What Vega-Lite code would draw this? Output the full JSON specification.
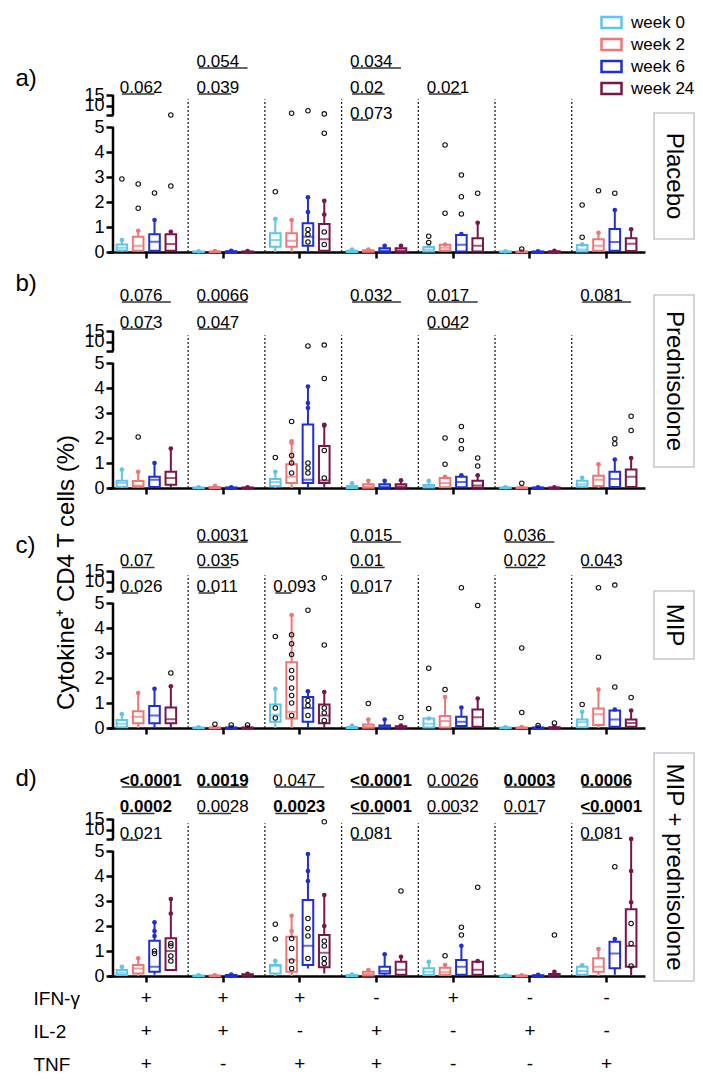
{
"$schema": "https://vega.github.io/schema/vega-lite/v6.json",
"padding": {"left": 15, "top": 0, "right": 0, "bottom": 0},
"title": {"text": "Cytokine⁺ CD4 T cells (%)", "orient": "left", "anchor": "middle", "frame": "bounds", "offset": -64, "dx": -30, "fontSize": 24, "fontWeight": "normal", "font": "Liberation Sans", "color": "black"},
"config": {
 "view": {"stroke": null},
 "font": "Liberation Sans",
 "axis": {"domainColor": "black", "domainWidth": 2.5, "tickColor": "black", "tickWidth": 2.5, "tickSize": 7, "labelColor": "black", "labelFont": "Liberation Sans", "labelFontSize": 18, "titleFont": "Liberation Sans", "titleColor": "black", "grid": false, "labelPadding": 2, "labelOverlap": false},
 "text": {"font": "Liberation Sans", "color": "black"}
},
"datasets": {
 "box": [
  {"p":"a","g":"+++","w":"week 0","lo":0,"q1":0.06,"md":0.17,"q3":0.3,"hi":0.48},
  {"p":"a","g":"+++","w":"week 2","lo":0,"q1":0.05,"md":0.25,"q3":0.61,"hi":0.85},
  {"p":"a","g":"+++","w":"week 6","lo":0,"q1":0.05,"md":0.41,"q3":0.71,"hi":1.28},
  {"p":"a","g":"+++","w":"week 24","lo":0,"q1":0.05,"md":0.32,"q3":0.71,"hi":0.81},
  {"p":"a","g":"++-","w":"week 0","lo":0,"q1":0,"md":0.01,"q3":0.02,"hi":0.03},
  {"p":"a","g":"++-","w":"week 2","lo":0,"q1":0,"md":0.01,"q3":0.02,"hi":0.04},
  {"p":"a","g":"++-","w":"week 6","lo":0,"q1":0,"md":0.02,"q3":0.03,"hi":0.05},
  {"p":"a","g":"++-","w":"week 24","lo":0,"q1":0,"md":0.01,"q3":0.02,"hi":0.04},
  {"p":"a","g":"+-+","w":"week 0","lo":0,"q1":0.21,"md":0.48,"q3":0.75,"hi":1.32},
  {"p":"a","g":"+-+","w":"week 2","lo":0,"q1":0.21,"md":0.45,"q3":0.75,"hi":1.28},
  {"p":"a","g":"+-+","w":"week 6","lo":0,"q1":0.25,"md":0.61,"q3":1.15,"hi":2.19},
  {"p":"a","g":"+-+","w":"week 24","lo":0,"q1":0.05,"md":0.51,"q3":1.12,"hi":2.05},
  {"p":"a","g":"-++","w":"week 0","lo":0,"q1":0,"md":0.02,"q3":0.05,"hi":0.1},
  {"p":"a","g":"-++","w":"week 2","lo":0,"q1":0.01,"md":0.03,"q3":0.07,"hi":0.1},
  {"p":"a","g":"-++","w":"week 6","lo":0,"q1":0.01,"md":0.05,"q3":0.15,"hi":0.25},
  {"p":"a","g":"-++","w":"week 24","lo":0,"q1":0.01,"md":0.06,"q3":0.15,"hi":0.25},
  {"p":"a","g":"+--","w":"week 0","lo":0,"q1":0.02,"md":0.1,"q3":0.2,"hi":0.25},
  {"p":"a","g":"+--","w":"week 2","lo":0,"q1":0.05,"md":0.17,"q3":0.29,"hi":0.3},
  {"p":"a","g":"+--","w":"week 6","lo":0,"q1":0.02,"md":0.29,"q3":0.68,"hi":0.72},
  {"p":"a","g":"+--","w":"week 24","lo":0,"q1":0.02,"md":0.25,"q3":0.55,"hi":1.17},
  {"p":"a","g":"-+-","w":"week 0","lo":0,"q1":0,"md":0.01,"q3":0.02,"hi":0.03},
  {"p":"a","g":"-+-","w":"week 2","lo":0,"q1":0,"md":0.01,"q3":0.02,"hi":0.04},
  {"p":"a","g":"-+-","w":"week 6","lo":0,"q1":0,"md":0.01,"q3":0.02,"hi":0.03},
  {"p":"a","g":"-+-","w":"week 24","lo":0,"q1":0,"md":0.01,"q3":0.03,"hi":0.05},
  {"p":"a","g":"--+","w":"week 0","lo":0,"q1":0.02,"md":0.1,"q3":0.28,"hi":0.3},
  {"p":"a","g":"--+","w":"week 2","lo":0,"q1":0.05,"md":0.25,"q3":0.51,"hi":0.77},
  {"p":"a","g":"--+","w":"week 6","lo":0,"q1":0.05,"md":0.4,"q3":0.92,"hi":1.68},
  {"p":"a","g":"--+","w":"week 24","lo":0,"q1":0.04,"md":0.33,"q3":0.55,"hi":0.91},
  {"p":"b","g":"+++","w":"week 0","lo":0,"q1":0.05,"md":0.2,"q3":0.29,"hi":0.74},
  {"p":"b","g":"+++","w":"week 2","lo":0,"q1":0.05,"md":0.1,"q3":0.28,"hi":0.65},
  {"p":"b","g":"+++","w":"week 6","lo":0,"q1":0.04,"md":0.33,"q3":0.45,"hi":1.0},
  {"p":"b","g":"+++","w":"week 24","lo":0,"q1":0.13,"md":0.4,"q3":0.65,"hi":1.58},
  {"p":"b","g":"++-","w":"week 0","lo":0,"q1":0,"md":0.01,"q3":0.02,"hi":0.03},
  {"p":"b","g":"++-","w":"week 2","lo":0,"q1":0,"md":0.02,"q3":0.04,"hi":0.08},
  {"p":"b","g":"++-","w":"week 6","lo":0,"q1":0,"md":0.01,"q3":0.02,"hi":0.03},
  {"p":"b","g":"++-","w":"week 24","lo":0,"q1":0,"md":0.01,"q3":0.02,"hi":0.03},
  {"p":"b","g":"+-+","w":"week 0","lo":0,"q1":0.07,"md":0.24,"q3":0.36,"hi":0.65},
  {"p":"b","g":"+-+","w":"week 2","lo":0,"q1":0.2,"md":0.45,"q3":0.95,"hi":1.87},
  {"p":"b","g":"+-+","w":"week 6","lo":0,"q1":0.2,"md":0.33,"q3":2.54,"hi":4.06},
  {"p":"b","g":"+-+","w":"week 24","lo":0,"q1":0.2,"md":0.3,"q3":1.68,"hi":2.53},
  {"p":"b","g":"-++","w":"week 0","lo":0,"q1":0,"md":0.03,"q3":0.08,"hi":0.19},
  {"p":"b","g":"-++","w":"week 2","lo":0,"q1":0.01,"md":0.05,"q3":0.15,"hi":0.29},
  {"p":"b","g":"-++","w":"week 6","lo":0,"q1":0.01,"md":0.05,"q3":0.15,"hi":0.29},
  {"p":"b","g":"-++","w":"week 24","lo":0,"q1":0.01,"md":0.06,"q3":0.15,"hi":0.31},
  {"p":"b","g":"+--","w":"week 0","lo":0,"q1":0.02,"md":0.06,"q3":0.12,"hi":0.29},
  {"p":"b","g":"+--","w":"week 2","lo":0,"q1":0.03,"md":0.2,"q3":0.4,"hi":0.45},
  {"p":"b","g":"+--","w":"week 6","lo":0,"q1":0.03,"md":0.24,"q3":0.45,"hi":0.51},
  {"p":"b","g":"+--","w":"week 24","lo":0,"q1":0.01,"md":0.1,"q3":0.29,"hi":0.51},
  {"p":"b","g":"-+-","w":"week 0","lo":0,"q1":0,"md":0.01,"q3":0.02,"hi":0.03},
  {"p":"b","g":"-+-","w":"week 2","lo":0,"q1":0,"md":0.01,"q3":0.02,"hi":0.04},
  {"p":"b","g":"-+-","w":"week 6","lo":0,"q1":0,"md":0.01,"q3":0.02,"hi":0.03},
  {"p":"b","g":"-+-","w":"week 24","lo":0,"q1":0,"md":0.01,"q3":0.02,"hi":0.03},
  {"p":"b","g":"--+","w":"week 0","lo":0,"q1":0.05,"md":0.15,"q3":0.29,"hi":0.41},
  {"p":"b","g":"--+","w":"week 2","lo":0,"q1":0.08,"md":0.33,"q3":0.49,"hi":0.95},
  {"p":"b","g":"--+","w":"week 6","lo":0,"q1":0.04,"md":0.36,"q3":0.65,"hi":1.14},
  {"p":"b","g":"--+","w":"week 24","lo":0,"q1":0.04,"md":0.45,"q3":0.74,"hi":1.2},
  {"p":"c","g":"+++","w":"week 0","lo":0,"q1":0.03,"md":0.17,"q3":0.32,"hi":0.56},
  {"p":"c","g":"+++","w":"week 2","lo":0,"q1":0.19,"md":0.45,"q3":0.67,"hi":1.4},
  {"p":"c","g":"+++","w":"week 6","lo":0,"q1":0.19,"md":0.5,"q3":0.88,"hi":1.57},
  {"p":"c","g":"+++","w":"week 24","lo":0,"q1":0.19,"md":0.35,"q3":0.82,"hi":1.67},
  {"p":"c","g":"++-","w":"week 0","lo":0,"q1":0,"md":0.01,"q3":0.02,"hi":0.03},
  {"p":"c","g":"++-","w":"week 2","lo":0,"q1":0,"md":0.01,"q3":0.02,"hi":0.03},
  {"p":"c","g":"++-","w":"week 6","lo":0,"q1":0,"md":0.01,"q3":0.02,"hi":0.03},
  {"p":"c","g":"++-","w":"week 24","lo":0,"q1":0,"md":0.01,"q3":0.02,"hi":0.03},
  {"p":"c","g":"+-+","w":"week 0","lo":0,"q1":0.25,"md":0.53,"q3":0.94,"hi":1.57},
  {"p":"c","g":"+-+","w":"week 2","lo":0,"q1":0.38,"md":0.65,"q3":2.63,"hi":4.52},
  {"p":"c","g":"+-+","w":"week 6","lo":0,"q1":0.25,"md":0.8,"q3":1.24,"hi":1.47},
  {"p":"c","g":"+-+","w":"week 24","lo":0,"q1":0.19,"md":0.5,"q3":0.94,"hi":1.44},
  {"p":"c","g":"-++","w":"week 0","lo":0,"q1":0,"md":0.02,"q3":0.04,"hi":0.1},
  {"p":"c","g":"-++","w":"week 2","lo":0,"q1":0.01,"md":0.05,"q3":0.14,"hi":0.34},
  {"p":"c","g":"-++","w":"week 6","lo":0,"q1":0.01,"md":0.04,"q3":0.1,"hi":0.34},
  {"p":"c","g":"-++","w":"week 24","lo":0,"q1":0.01,"md":0.03,"q3":0.07,"hi":0.1},
  {"p":"c","g":"+--","w":"week 0","lo":0,"q1":0.02,"md":0.17,"q3":0.38,"hi":0.38},
  {"p":"c","g":"+--","w":"week 2","lo":0,"q1":0.02,"md":0.28,"q3":0.48,"hi":1.24},
  {"p":"c","g":"+--","w":"week 6","lo":0,"q1":0.08,"md":0.25,"q3":0.45,"hi":0.82},
  {"p":"c","g":"+--","w":"week 24","lo":0,"q1":0.05,"md":0.43,"q3":0.74,"hi":1.18},
  {"p":"c","g":"-+-","w":"week 0","lo":0,"q1":0,"md":0.01,"q3":0.02,"hi":0.03},
  {"p":"c","g":"-+-","w":"week 2","lo":0,"q1":0,"md":0.01,"q3":0.02,"hi":0.04},
  {"p":"c","g":"-+-","w":"week 6","lo":0,"q1":0,"md":0.01,"q3":0.02,"hi":0.04},
  {"p":"c","g":"-+-","w":"week 24","lo":0,"q1":0,"md":0.01,"q3":0.03,"hi":0.05},
  {"p":"c","g":"--+","w":"week 0","lo":0,"q1":0.03,"md":0.24,"q3":0.34,"hi":0.65},
  {"p":"c","g":"--+","w":"week 2","lo":0,"q1":0.12,"md":0.55,"q3":0.78,"hi":1.54},
  {"p":"c","g":"--+","w":"week 6","lo":0,"q1":0.05,"md":0.34,"q3":0.7,"hi":0.74},
  {"p":"c","g":"--+","w":"week 24","lo":0,"q1":0.05,"md":0.2,"q3":0.34,"hi":0.7},
  {"p":"d","g":"+++","w":"week 0","lo":0,"q1":0.04,"md":0.13,"q3":0.24,"hi":0.37},
  {"p":"d","g":"+++","w":"week 2","lo":0,"q1":0.1,"md":0.3,"q3":0.44,"hi":0.71},
  {"p":"d","g":"+++","w":"week 6","lo":0.05,"q1":0.17,"md":0.37,"q3":1.41,"hi":2.15},
  {"p":"d","g":"+++","w":"week 24","lo":0.2,"q1":0.24,"md":1.0,"q3":1.51,"hi":3.08},
  {"p":"d","g":"++-","w":"week 0","lo":0,"q1":0,"md":0.01,"q3":0.02,"hi":0.03},
  {"p":"d","g":"++-","w":"week 2","lo":0,"q1":0,"md":0.01,"q3":0.02,"hi":0.03},
  {"p":"d","g":"++-","w":"week 6","lo":0,"q1":0,"md":0.02,"q3":0.04,"hi":0.06},
  {"p":"d","g":"++-","w":"week 24","lo":0,"q1":0.01,"md":0.04,"q3":0.07,"hi":0.09},
  {"p":"d","g":"+-+","w":"week 0","lo":0,"q1":0.1,"md":0.4,"q3":0.44,"hi":0.61},
  {"p":"d","g":"+-+","w":"week 2","lo":0,"q1":0.17,"md":0.65,"q3":1.57,"hi":2.41},
  {"p":"d","g":"+-+","w":"week 6","lo":0.3,"q1":0.44,"md":1.21,"q3":3.04,"hi":4.88},
  {"p":"d","g":"+-+","w":"week 24","lo":0.1,"q1":0.35,"md":0.93,"q3":1.64,"hi":3.24},
  {"p":"d","g":"-++","w":"week 0","lo":0,"q1":0,"md":0.02,"q3":0.04,"hi":0.06},
  {"p":"d","g":"-++","w":"week 2","lo":0,"q1":0.02,"md":0.08,"q3":0.17,"hi":0.24},
  {"p":"d","g":"-++","w":"week 6","lo":0,"q1":0.1,"md":0.2,"q3":0.37,"hi":0.87},
  {"p":"d","g":"-++","w":"week 24","lo":0,"q1":0.05,"md":0.25,"q3":0.57,"hi":0.77},
  {"p":"d","g":"+--","w":"week 0","lo":0,"q1":0.04,"md":0.17,"q3":0.31,"hi":0.57},
  {"p":"d","g":"+--","w":"week 2","lo":0,"q1":0.04,"md":0.15,"q3":0.33,"hi":0.44},
  {"p":"d","g":"+--","w":"week 6","lo":0,"q1":0.05,"md":0.37,"q3":0.64,"hi":1.21},
  {"p":"d","g":"+--","w":"week 24","lo":0,"q1":0.05,"md":0.25,"q3":0.57,"hi":0.6},
  {"p":"d","g":"-+-","w":"week 0","lo":0,"q1":0,"md":0.01,"q3":0.02,"hi":0.03},
  {"p":"d","g":"-+-","w":"week 2","lo":0,"q1":0,"md":0.01,"q3":0.02,"hi":0.03},
  {"p":"d","g":"-+-","w":"week 6","lo":0,"q1":0,"md":0.01,"q3":0.03,"hi":0.05},
  {"p":"d","g":"-+-","w":"week 24","lo":0,"q1":0.01,"md":0.04,"q3":0.08,"hi":0.17},
  {"p":"d","g":"--+","w":"week 0","lo":0,"q1":0.05,"md":0.2,"q3":0.37,"hi":0.43},
  {"p":"d","g":"--+","w":"week 2","lo":0,"q1":0.17,"md":0.37,"q3":0.71,"hi":1.08},
  {"p":"d","g":"--+","w":"week 6","lo":0.05,"q1":0.31,"md":0.9,"q3":1.37,"hi":1.48},
  {"p":"d","g":"--+","w":"week 24","lo":0,"q1":0.37,"md":1.2,"q3":2.67,"hi":5.5}
 ],
 "pts": [
  {"p":"a","g":"+++","w":"week 0","v":2.92,"k":"o"},
  {"p":"a","g":"+++","w":"week 2","v":1.75,"k":"o"},
  {"p":"a","g":"+++","w":"week 2","v":2.72,"k":"o"},
  {"p":"a","g":"+++","w":"week 6","v":2.36,"k":"o"},
  {"p":"a","g":"+++","w":"week 24","v":2.64,"k":"o"},
  {"p":"a","g":"+++","w":"week 24","v":5.5,"k":"o"},
  {"p":"a","g":"+-+","w":"week 0","v":2.41,"k":"o"},
  {"p":"a","g":"+-+","w":"week 2","v":6.3,"k":"o"},
  {"p":"a","g":"+-+","w":"week 6","v":7.5,"k":"o"},
  {"p":"a","g":"+-+","w":"week 24","v":4.75,"k":"o"},
  {"p":"a","g":"+-+","w":"week 24","v":6.0,"k":"o"},
  {"p":"a","g":"+-+","w":"week 6","v":0.4,"k":"o"},
  {"p":"a","g":"+-+","w":"week 6","v":0.7,"k":"o"},
  {"p":"a","g":"+-+","w":"week 6","v":0.9,"k":"o"},
  {"p":"a","g":"+-+","w":"week 6","v":1.6,"k":"f"},
  {"p":"a","g":"+-+","w":"week 24","v":0.3,"k":"o"},
  {"p":"a","g":"+-+","w":"week 24","v":0.8,"k":"o"},
  {"p":"a","g":"+-+","w":"week 24","v":1.5,"k":"f"},
  {"p":"a","g":"+--","w":"week 0","v":0.38,"k":"o"},
  {"p":"a","g":"+--","w":"week 0","v":0.63,"k":"o"},
  {"p":"a","g":"+--","w":"week 2","v":1.55,"k":"o"},
  {"p":"a","g":"+--","w":"week 2","v":4.28,"k":"o"},
  {"p":"a","g":"+--","w":"week 6","v":1.52,"k":"o"},
  {"p":"a","g":"+--","w":"week 6","v":2.21,"k":"o"},
  {"p":"a","g":"+--","w":"week 6","v":3.08,"k":"o"},
  {"p":"a","g":"+--","w":"week 24","v":2.35,"k":"o"},
  {"p":"a","g":"-+-","w":"week 2","v":0.12,"k":"o"},
  {"p":"a","g":"--+","w":"week 0","v":0.59,"k":"o"},
  {"p":"a","g":"--+","w":"week 0","v":1.88,"k":"o"},
  {"p":"a","g":"--+","w":"week 2","v":2.45,"k":"o"},
  {"p":"a","g":"--+","w":"week 6","v":2.35,"k":"o"},
  {"p":"b","g":"+++","w":"week 2","v":2.04,"k":"o"},
  {"p":"b","g":"+-+","w":"week 0","v":1.22,"k":"o"},
  {"p":"b","g":"+-+","w":"week 2","v":2.66,"k":"o"},
  {"p":"b","g":"+-+","w":"week 2","v":0.6,"k":"o"},
  {"p":"b","g":"+-+","w":"week 2","v":1.0,"k":"o"},
  {"p":"b","g":"+-+","w":"week 2","v":1.3,"k":"o"},
  {"p":"b","g":"+-+","w":"week 2","v":1.8,"k":"f"},
  {"p":"b","g":"+-+","w":"week 6","v":7.9,"k":"o"},
  {"p":"b","g":"+-+","w":"week 6","v":0.6,"k":"o"},
  {"p":"b","g":"+-+","w":"week 6","v":0.8,"k":"o"},
  {"p":"b","g":"+-+","w":"week 6","v":1.0,"k":"o"},
  {"p":"b","g":"+-+","w":"week 6","v":3.2,"k":"f"},
  {"p":"b","g":"+-+","w":"week 6","v":3.4,"k":"f"},
  {"p":"b","g":"+-+","w":"week 24","v":4.38,"k":"o"},
  {"p":"b","g":"+-+","w":"week 24","v":8.3,"k":"o"},
  {"p":"b","g":"+-+","w":"week 24","v":0.4,"k":"o"},
  {"p":"b","g":"+-+","w":"week 24","v":1.5,"k":"o"},
  {"p":"b","g":"+-+","w":"week 24","v":2.5,"k":"f"},
  {"p":"b","g":"+--","w":"week 2","v":0.95,"k":"o"},
  {"p":"b","g":"+--","w":"week 2","v":2.0,"k":"o"},
  {"p":"b","g":"+--","w":"week 6","v":1.57,"k":"o"},
  {"p":"b","g":"+--","w":"week 6","v":1.9,"k":"o"},
  {"p":"b","g":"+--","w":"week 6","v":2.46,"k":"o"},
  {"p":"b","g":"+--","w":"week 24","v":0.88,"k":"o"},
  {"p":"b","g":"+--","w":"week 24","v":1.2,"k":"o"},
  {"p":"b","g":"-+-","w":"week 2","v":0.19,"k":"o"},
  {"p":"b","g":"--+","w":"week 6","v":1.77,"k":"o"},
  {"p":"b","g":"--+","w":"week 6","v":1.97,"k":"o"},
  {"p":"b","g":"--+","w":"week 24","v":2.3,"k":"o"},
  {"p":"b","g":"--+","w":"week 24","v":2.87,"k":"o"},
  {"p":"c","g":"+++","w":"week 24","v":2.2,"k":"o"},
  {"p":"c","g":"++-","w":"week 2","v":0.15,"k":"o"},
  {"p":"c","g":"++-","w":"week 6","v":0.12,"k":"o"},
  {"p":"c","g":"++-","w":"week 24","v":0.12,"k":"o"},
  {"p":"c","g":"+-+","w":"week 0","v":3.66,"k":"o"},
  {"p":"c","g":"+-+","w":"week 0","v":0.4,"k":"o"},
  {"p":"c","g":"+-+","w":"week 0","v":0.8,"k":"o"},
  {"p":"c","g":"+-+","w":"week 2","v":0.5,"k":"o"},
  {"p":"c","g":"+-+","w":"week 2","v":1.0,"k":"o"},
  {"p":"c","g":"+-+","w":"week 2","v":1.3,"k":"o"},
  {"p":"c","g":"+-+","w":"week 2","v":1.6,"k":"o"},
  {"p":"c","g":"+-+","w":"week 2","v":2.0,"k":"o"},
  {"p":"c","g":"+-+","w":"week 2","v":2.3,"k":"o"},
  {"p":"c","g":"+-+","w":"week 2","v":2.94,"k":"o"},
  {"p":"c","g":"+-+","w":"week 2","v":3.37,"k":"o"},
  {"p":"c","g":"+-+","w":"week 2","v":3.73,"k":"o"},
  {"p":"c","g":"+-+","w":"week 6","v":4.71,"k":"o"},
  {"p":"c","g":"+-+","w":"week 6","v":0.5,"k":"o"},
  {"p":"c","g":"+-+","w":"week 6","v":0.9,"k":"o"},
  {"p":"c","g":"+-+","w":"week 6","v":1.1,"k":"o"},
  {"p":"c","g":"+-+","w":"week 24","v":3.32,"k":"o"},
  {"p":"c","g":"+-+","w":"week 24","v":11.8,"k":"o"},
  {"p":"c","g":"+-+","w":"week 24","v":0.3,"k":"o"},
  {"p":"c","g":"+-+","w":"week 24","v":0.6,"k":"o"},
  {"p":"c","g":"+-+","w":"week 24","v":0.8,"k":"o"},
  {"p":"c","g":"-++","w":"week 2","v":0.98,"k":"o"},
  {"p":"c","g":"-++","w":"week 24","v":0.42,"k":"o"},
  {"p":"c","g":"+--","w":"week 0","v":0.78,"k":"o"},
  {"p":"c","g":"+--","w":"week 0","v":2.39,"k":"o"},
  {"p":"c","g":"+--","w":"week 2","v":1.54,"k":"o"},
  {"p":"c","g":"+--","w":"week 6","v":7.0,"k":"o"},
  {"p":"c","g":"+--","w":"week 24","v":4.9,"k":"o"},
  {"p":"c","g":"-+-","w":"week 2","v":0.62,"k":"o"},
  {"p":"c","g":"-+-","w":"week 2","v":3.2,"k":"o"},
  {"p":"c","g":"-+-","w":"week 6","v":0.1,"k":"o"},
  {"p":"c","g":"-+-","w":"week 24","v":0.2,"k":"o"},
  {"p":"c","g":"--+","w":"week 0","v":0.94,"k":"o"},
  {"p":"c","g":"--+","w":"week 2","v":2.83,"k":"o"},
  {"p":"c","g":"--+","w":"week 2","v":7.0,"k":"o"},
  {"p":"c","g":"--+","w":"week 6","v":1.64,"k":"o"},
  {"p":"c","g":"--+","w":"week 6","v":8.3,"k":"o"},
  {"p":"c","g":"--+","w":"week 24","v":1.22,"k":"o"},
  {"p":"d","g":"+++","w":"week 6","v":0.9,"k":"o"},
  {"p":"d","g":"+++","w":"week 6","v":1.0,"k":"o"},
  {"p":"d","g":"+++","w":"week 6","v":1.6,"k":"f"},
  {"p":"d","g":"+++","w":"week 6","v":1.8,"k":"f"},
  {"p":"d","g":"+++","w":"week 24","v":0.6,"k":"o"},
  {"p":"d","g":"+++","w":"week 24","v":0.8,"k":"o"},
  {"p":"d","g":"+++","w":"week 24","v":1.2,"k":"o"},
  {"p":"d","g":"+++","w":"week 24","v":1.3,"k":"o"},
  {"p":"d","g":"+++","w":"week 24","v":2.5,"k":"f"},
  {"p":"d","g":"+-+","w":"week 0","v":1.48,"k":"o"},
  {"p":"d","g":"+-+","w":"week 0","v":2.07,"k":"o"},
  {"p":"d","g":"+-+","w":"week 2","v":0.3,"k":"o"},
  {"p":"d","g":"+-+","w":"week 2","v":0.6,"k":"o"},
  {"p":"d","g":"+-+","w":"week 2","v":1.1,"k":"o"},
  {"p":"d","g":"+-+","w":"week 2","v":1.5,"k":"o"},
  {"p":"d","g":"+-+","w":"week 2","v":1.8,"k":"f"},
  {"p":"d","g":"+-+","w":"week 6","v":0.7,"k":"o"},
  {"p":"d","g":"+-+","w":"week 6","v":1.6,"k":"o"},
  {"p":"d","g":"+-+","w":"week 6","v":1.9,"k":"o"},
  {"p":"d","g":"+-+","w":"week 6","v":2.3,"k":"o"},
  {"p":"d","g":"+-+","w":"week 6","v":3.8,"k":"f"},
  {"p":"d","g":"+-+","w":"week 6","v":4.2,"k":"f"},
  {"p":"d","g":"+-+","w":"week 24","v":0.5,"k":"o"},
  {"p":"d","g":"+-+","w":"week 24","v":0.7,"k":"o"},
  {"p":"d","g":"+-+","w":"week 24","v":1.2,"k":"o"},
  {"p":"d","g":"+-+","w":"week 24","v":1.4,"k":"o"},
  {"p":"d","g":"+-+","w":"week 24","v":2.0,"k":"f"},
  {"p":"d","g":"+-+","w":"week 24","v":13.7,"k":"o"},
  {"p":"d","g":"-++","w":"week 24","v":3.4,"k":"o"},
  {"p":"d","g":"+--","w":"week 2","v":0.81,"k":"o"},
  {"p":"d","g":"+--","w":"week 6","v":1.64,"k":"o"},
  {"p":"d","g":"+--","w":"week 6","v":1.95,"k":"o"},
  {"p":"d","g":"+--","w":"week 24","v":3.55,"k":"o"},
  {"p":"d","g":"-+-","w":"week 24","v":1.64,"k":"o"},
  {"p":"d","g":"--+","w":"week 6","v":4.37,"k":"o"},
  {"p":"d","g":"--+","w":"week 24","v":0.4,"k":"o"},
  {"p":"d","g":"--+","w":"week 24","v":1.3,"k":"o"},
  {"p":"d","g":"--+","w":"week 24","v":2.1,"k":"o"},
  {"p":"d","g":"--+","w":"week 24","v":2.95,"k":"f"},
  {"p":"d","g":"--+","w":"week 24","v":4.2,"k":"f"}
 ],
 "pv": [
  {"p":"a","g":"+++","fr":"week 0","to":"week 6","t":"0.062"},
  {"p":"a","g":"++-","fr":"week 0","to":"week 24","t":"0.054"},
  {"p":"a","g":"++-","fr":"week 0","to":"week 6","t":"0.039"},
  {"p":"a","g":"-++","fr":"week 0","to":"week 24","t":"0.034"},
  {"p":"a","g":"-++","fr":"week 0","to":"week 6","t":"0.02"},
  {"p":"a","g":"-++","fr":"week 0","to":"week 2","t":"0.073"},
  {"p":"a","g":"+--","fr":"week 0","to":"week 6","t":"0.021"},
  {"p":"b","g":"+++","fr":"week 0","to":"week 24","t":"0.076"},
  {"p":"b","g":"+++","fr":"week 0","to":"week 6","t":"0.073"},
  {"p":"b","g":"++-","fr":"week 0","to":"week 24","t":"0.0066"},
  {"p":"b","g":"++-","fr":"week 0","to":"week 6","t":"0.047"},
  {"p":"b","g":"-++","fr":"week 0","to":"week 24","t":"0.032"},
  {"p":"b","g":"+--","fr":"week 0","to":"week 24","t":"0.017"},
  {"p":"b","g":"+--","fr":"week 0","to":"week 6","t":"0.042"},
  {"p":"b","g":"--+","fr":"week 0","to":"week 24","t":"0.081"},
  {"p":"c","g":"+++","fr":"week 0","to":"week 6","t":"0.07"},
  {"p":"c","g":"+++","fr":"week 0","to":"week 2","t":"0.026"},
  {"p":"c","g":"++-","fr":"week 0","to":"week 24","t":"0.0031"},
  {"p":"c","g":"++-","fr":"week 0","to":"week 6","t":"0.035"},
  {"p":"c","g":"++-","fr":"week 0","to":"week 2","t":"0.011"},
  {"p":"c","g":"+-+","fr":"week 0","to":"week 2","t":"0.093"},
  {"p":"c","g":"-++","fr":"week 0","to":"week 24","t":"0.015"},
  {"p":"c","g":"-++","fr":"week 0","to":"week 6","t":"0.01"},
  {"p":"c","g":"-++","fr":"week 0","to":"week 2","t":"0.017"},
  {"p":"c","g":"-+-","fr":"week 0","to":"week 24","t":"0.036"},
  {"p":"c","g":"-+-","fr":"week 0","to":"week 6","t":"0.022"},
  {"p":"c","g":"--+","fr":"week 0","to":"week 6","t":"0.043"},
  {"p":"d","g":"+++","fr":"week 0","to":"week 24","t":"<0.0001","b":1},
  {"p":"d","g":"+++","fr":"week 0","to":"week 6","t":"0.0002","b":1},
  {"p":"d","g":"+++","fr":"week 0","to":"week 2","t":"0.021"},
  {"p":"d","g":"++-","fr":"week 0","to":"week 24","t":"0.0019","b":1},
  {"p":"d","g":"++-","fr":"week 0","to":"week 6","t":"0.0028"},
  {"p":"d","g":"+-+","fr":"week 0","to":"week 24","t":"0.047"},
  {"p":"d","g":"+-+","fr":"week 0","to":"week 6","t":"0.0023","b":1},
  {"p":"d","g":"-++","fr":"week 0","to":"week 24","t":"<0.0001","b":1},
  {"p":"d","g":"-++","fr":"week 0","to":"week 6","t":"<0.0001","b":1},
  {"p":"d","g":"-++","fr":"week 0","to":"week 2","t":"0.081"},
  {"p":"d","g":"+--","fr":"week 0","to":"week 24","t":"0.0026"},
  {"p":"d","g":"+--","fr":"week 0","to":"week 6","t":"0.0032"},
  {"p":"d","g":"-+-","fr":"week 0","to":"week 24","t":"0.0003","b":1},
  {"p":"d","g":"-+-","fr":"week 0","to":"week 6","t":"0.017"},
  {"p":"d","g":"--+","fr":"week 0","to":"week 24","t":"0.0006","b":1},
  {"p":"d","g":"--+","fr":"week 0","to":"week 6","t":"<0.0001","b":1},
  {"p":"d","g":"--+","fr":"week 0","to":"week 2","t":"0.081"}
 ],
 "tab": [
  {"g":"+++","c":"IFN-γ","s":"+"},{"g":"+++","c":"IL-2","s":"+"},{"g":"+++","c":"TNF","s":"+"},
  {"g":"++-","c":"IFN-γ","s":"+"},{"g":"++-","c":"IL-2","s":"+"},{"g":"++-","c":"TNF","s":"-"},
  {"g":"+-+","c":"IFN-γ","s":"+"},{"g":"+-+","c":"IL-2","s":"-"},{"g":"+-+","c":"TNF","s":"+"},
  {"g":"-++","c":"IFN-γ","s":"-"},{"g":"-++","c":"IL-2","s":"+"},{"g":"-++","c":"TNF","s":"+"},
  {"g":"+--","c":"IFN-γ","s":"+"},{"g":"+--","c":"IL-2","s":"-"},{"g":"+--","c":"TNF","s":"-"},
  {"g":"-+-","c":"IFN-γ","s":"-"},{"g":"-+-","c":"IL-2","s":"+"},{"g":"-+-","c":"TNF","s":"-"},
  {"g":"--+","c":"IFN-γ","s":"-"},{"g":"--+","c":"IL-2","s":"-"},{"g":"--+","c":"TNF","s":"+"}
 ]
},
"spacing": 0,
"bounds": "full",
"vconcat": [
 {"hconcat": [
  {"width": 537, "height": 252,
   "layer": [
    {"layer": [
     {"data": {"name": "box"}, "transform": [{"filter": "datum.p=='a'"}],
      "mark": {"type": "rule", "strokeWidth": 2},
      "encoding": {
       "x": {"field": "g", "type": "nominal", "scale": {"domain": ["+++","++-","+-+","-++","+--","-+-","--+"], "paddingInner": 0, "paddingOuter": 0}, "axis": {"labels": false, "bandPosition": 0.5, "tickSize": 6, "title": "a)", "titleX": -93, "titleY": -174, "titleAngle": 0, "titleAlign": "left", "titleBaseline": "middle", "titleFontSize": 24, "titleFontWeight": "normal"}},
       "xOffset": {"field": "w", "type": "nominal", "scale": {"domain": ["week 0","week 2","week 6","week 24"], "paddingInner": 0.35, "paddingOuter": 0.525}},
       "y": {"field": "lo", "type": "quantitative", "scale": {"domain": [0,5,5.001,15], "range": [252,127,116,95], "nice": false, "zero": false}, "axis": {"values": [0,1,2,3,4,5,5.3,10,15], "tickCount": 30, "format": "d", "labelExpr": "datum.value == 5.3 ? '' : datum.label", "labelOverlap": false, "domain": false, "title": null, "offset": -5}},
       "y2": {"field": "hi"},
       "color": {"field": "w", "type": "nominal", "scale": {"domain": ["week 24","week 6","week 2","week 0"], "range": ["#7b144a","#1e2fd6","#f07676","#5cc6ec"]}, "legend": null}
      }},
     {"data": {"name": "box"}, "transform": [{"filter": "datum.p=='a' && datum.w=='week 0' && datum.g!='+++'"}],
      "mark": {"type": "rule", "strokeDash": [2,2], "strokeWidth": 1.3, "color": "#222"},
      "encoding": {"x": {"field": "g", "type": "nominal", "bandPosition": 0.045}, "y": {"datum": 0, "type": "quantitative"}, "y2": {"datum": 13}}},
     {"data": {"values": [{}]}, "mark": {"type": "rule", "strokeWidth": 2.5, "color": "black"},
      "encoding": {"x": {"datum": "+++", "type": "nominal", "bandPosition": 0.065}, "y": {"datum": 0, "type": "quantitative"}, "y2": {"datum": 5}}},
     {"data": {"values": [{}]}, "mark": {"type": "rule", "strokeWidth": 2.5, "color": "black"},
      "encoding": {"x": {"datum": "+++", "type": "nominal", "bandPosition": 0.065}, "y": {"datum": 5.3, "type": "quantitative"}, "y2": {"datum": 15}}},
     {"data": {"name": "box"}, "transform": [{"filter": "datum.p=='a'"}],
      "mark": {"type": "bar", "fill": "white", "strokeWidth": 2},
      "encoding": {
       "x": {"field": "g", "type": "nominal"},
       "xOffset": {"field": "w", "type": "nominal"},
       "y": {"field": "q1", "type": "quantitative"},
       "y2": {"field": "q3"},
       "stroke": {"field": "w", "type": "nominal", "scale": {"domain": ["week 0","week 2","week 6","week 24"], "range": ["#5cc6ec","#f07676","#1e2fd6","#7b144a"]}, "legend": {"title": null, "orient": "none", "legendX": 492, "legendY": 11, "symbolType": "M-1,-0.55H1V0.55H-1Z", "symbolSize": 400, "symbolStrokeWidth": 2.5, "symbolFillColor": "white", "labelFontSize": 17, "labelFont": "Liberation Sans", "labelColor": "black", "rowPadding": 0, "labelOffset": 8}}
      }},
     {"data": {"name": "box"}, "transform": [{"filter": "datum.p=='a'"}],
      "mark": {"type": "tick", "size": 10.5, "thickness": 2, "orient": "horizontal"},
      "encoding": {"x": {"field": "g", "type": "nominal"}, "xOffset": {"field": "w", "type": "nominal"}, "y": {"field": "md", "type": "quantitative"}, "color": {"field": "w", "type": "nominal", "legend": null}}},
     {"data": {"name": "box"}, "transform": [{"filter": "datum.p=='a'"}],
      "mark": {"type": "point", "filled": true, "size": 22, "opacity": 1},
      "encoding": {"x": {"field": "g", "type": "nominal"}, "xOffset": {"field": "w", "type": "nominal"}, "y": {"field": "hi", "type": "quantitative"}, "color": {"field": "w", "type": "nominal", "legend": null}}},
     {"data": {"name": "pts"}, "transform": [{"filter": "datum.p=='a' && datum.k=='f'"}],
      "mark": {"type": "point", "filled": true, "size": 22, "opacity": 1},
      "encoding": {"x": {"field": "g", "type": "nominal"}, "xOffset": {"field": "w", "type": "nominal"}, "y": {"field": "v", "type": "quantitative"}, "color": {"field": "w", "type": "nominal", "legend": null}}},
     {"data": {"name": "pts"}, "transform": [{"filter": "datum.p=='a' && datum.k=='o'"}],
      "mark": {"type": "point", "filled": false, "size": 20, "strokeWidth": 1.1, "color": "#111", "opacity": 1},
      "encoding": {"x": {"field": "g", "type": "nominal"}, "xOffset": {"field": "w", "type": "nominal"}, "y": {"field": "v", "type": "quantitative"}}}
    ]},
    {"layer": [
     {"data": {"name": "pv"}, "transform": [{"filter": "datum.p=='a'"}, {"fold": ["fr","to"], "as": ["kk","wk"]}],
      "mark": {"type": "line", "strokeWidth": 1.5, "color": "#333"},
      "encoding": {"x": {"field": "g", "type": "nominal"}, "xOffset": {"field": "wk", "type": "nominal"}, "y": {"field": "to", "type": "nominal", "scale": {"type": "point", "domain": ["week 24","week 6","week 2"], "range": [68,120], "padding": 0}, "axis": null}, "detail": [{"field": "g"}, {"field": "to"}]}},
     {"data": {"name": "pv"}, "transform": [{"filter": "datum.p=='a'"}],
      "mark": {"type": "text", "align": "left", "baseline": "alphabetic", "dy": -1.5, "dx": -2, "fontSize": 17},
      "encoding": {"x": {"field": "g", "type": "nominal"}, "xOffset": {"field": "fr", "type": "nominal"}, "y": {"field": "to", "type": "nominal", "axis": null}, "text": {"field": "t"}}}
    ]}
   ],
   "resolve": {"scale": {"y": "independent"}}
  },
  {"vconcat": [
    {"width": 40, "height": 113, "data": {"values": [{}]}, "mark": {"type": "text"}, "encoding": {"text": {"value": " "}}},
    {"width": 40, "height": 126, "view": {"stroke": "#c8c8c8", "strokeWidth": 1.5}, "data": {"values": [{"t": "Placebo"}]}, "mark": {"type": "text", "angle": 90, "fontSize": 24, "align": "center", "baseline": "middle"}, "encoding": {"text": {"field": "t"}}}
   ], "spacing": 0, "bounds": "flush"}
 ], "spacing": 9, "bounds": "flush"},
 {"hconcat": [
  {"width": 537, "height": 227,
   "layer": [
    {"layer": [
     {"data": {"name": "box"}, "transform": [{"filter": "datum.p=='b'"}],
      "mark": {"type": "rule", "strokeWidth": 2},
      "encoding": {
       "x": {"field": "g", "type": "nominal", "scale": {"domain": ["+++","++-","+-+","-++","+--","-+-","--+"], "paddingInner": 0, "paddingOuter": 0}, "axis": {"labels": false, "bandPosition": 0.5, "tickSize": 6, "title": "b)", "titleX": -93, "titleY": -205, "titleAngle": 0, "titleAlign": "left", "titleBaseline": "middle", "titleFontSize": 24, "titleFontWeight": "normal"}},
       "xOffset": {"field": "w", "type": "nominal", "scale": {"domain": ["week 0","week 2","week 6","week 24"], "paddingInner": 0.35, "paddingOuter": 0.525}},
       "y": {"field": "lo", "type": "quantitative", "scale": {"domain": [0,5,5.001,15], "range": [227,102,91,70], "nice": false, "zero": false}, "axis": {"values": [0,1,2,3,4,5,5.3,10,15], "tickCount": 30, "format": "d", "labelExpr": "datum.value == 5.3 ? '' : datum.label", "labelOverlap": false, "domain": false, "title": null, "offset": -5}},
       "y2": {"field": "hi"},
       "color": {"field": "w", "type": "nominal", "scale": {"domain": ["week 24","week 6","week 2","week 0"], "range": ["#7b144a","#1e2fd6","#f07676","#5cc6ec"]}, "legend": null}
      }},
     {"data": {"name": "box"}, "transform": [{"filter": "datum.p=='b' && datum.w=='week 0' && datum.g!='+++'"}],
      "mark": {"type": "rule", "strokeDash": [2,2], "strokeWidth": 1.3, "color": "#222"},
      "encoding": {"x": {"field": "g", "type": "nominal", "bandPosition": 0.045}, "y": {"datum": 0, "type": "quantitative"}, "y2": {"datum": 13}}},
     {"data": {"values": [{}]}, "mark": {"type": "rule", "strokeWidth": 2.5, "color": "black"},
      "encoding": {"x": {"datum": "+++", "type": "nominal", "bandPosition": 0.065}, "y": {"datum": 0, "type": "quantitative"}, "y2": {"datum": 5}}},
     {"data": {"values": [{}]}, "mark": {"type": "rule", "strokeWidth": 2.5, "color": "black"},
      "encoding": {"x": {"datum": "+++", "type": "nominal", "bandPosition": 0.065}, "y": {"datum": 5.3, "type": "quantitative"}, "y2": {"datum": 15}}},
     {"data": {"name": "box"}, "transform": [{"filter": "datum.p=='b'"}],
      "mark": {"type": "bar", "fill": "white", "strokeWidth": 2},
      "encoding": {
       "x": {"field": "g", "type": "nominal"},
       "xOffset": {"field": "w", "type": "nominal"},
       "y": {"field": "q1", "type": "quantitative"},
       "y2": {"field": "q3"},
       "stroke": {"field": "w", "type": "nominal", "scale": {"domain": ["week 0","week 2","week 6","week 24"], "range": ["#5cc6ec","#f07676","#1e2fd6","#7b144a"]}, "legend": {"title": null, "orient": "none", "legendX": 492, "legendY": 11, "symbolType": "M-1,-0.55H1V0.55H-1Z", "symbolSize": 400, "symbolStrokeWidth": 2.5, "symbolFillColor": "white", "labelFontSize": 17, "labelFont": "Liberation Sans", "labelColor": "black", "rowPadding": 0, "labelOffset": 8}}
      }},
     {"data": {"name": "box"}, "transform": [{"filter": "datum.p=='b'"}],
      "mark": {"type": "tick", "size": 10.5, "thickness": 2, "orient": "horizontal"},
      "encoding": {"x": {"field": "g", "type": "nominal"}, "xOffset": {"field": "w", "type": "nominal"}, "y": {"field": "md", "type": "quantitative"}, "color": {"field": "w", "type": "nominal", "legend": null}}},
     {"data": {"name": "box"}, "transform": [{"filter": "datum.p=='b'"}],
      "mark": {"type": "point", "filled": true, "size": 22, "opacity": 1},
      "encoding": {"x": {"field": "g", "type": "nominal"}, "xOffset": {"field": "w", "type": "nominal"}, "y": {"field": "hi", "type": "quantitative"}, "color": {"field": "w", "type": "nominal", "legend": null}}},
     {"data": {"name": "pts"}, "transform": [{"filter": "datum.p=='b' && datum.k=='f'"}],
      "mark": {"type": "point", "filled": true, "size": 22, "opacity": 1},
      "encoding": {"x": {"field": "g", "type": "nominal"}, "xOffset": {"field": "w", "type": "nominal"}, "y": {"field": "v", "type": "quantitative"}, "color": {"field": "w", "type": "nominal", "legend": null}}},
     {"data": {"name": "pts"}, "transform": [{"filter": "datum.p=='b' && datum.k=='o'"}],
      "mark": {"type": "point", "filled": false, "size": 20, "strokeWidth": 1.1, "color": "#111", "opacity": 1},
      "encoding": {"x": {"field": "g", "type": "nominal"}, "xOffset": {"field": "w", "type": "nominal"}, "y": {"field": "v", "type": "quantitative"}}}
    ]},
    {"layer": [
     {"data": {"name": "pv"}, "transform": [{"filter": "datum.p=='b'"}, {"fold": ["fr","to"], "as": ["kk","wk"]}],
      "mark": {"type": "line", "strokeWidth": 1.5, "color": "#333"},
      "encoding": {"x": {"field": "g", "type": "nominal"}, "xOffset": {"field": "wk", "type": "nominal"}, "y": {"field": "to", "type": "nominal", "scale": {"type": "point", "domain": ["week 24","week 6","week 2"], "range": [41,95], "padding": 0}, "axis": null}, "detail": [{"field": "g"}, {"field": "to"}]}},
     {"data": {"name": "pv"}, "transform": [{"filter": "datum.p=='b'"}],
      "mark": {"type": "text", "align": "left", "baseline": "alphabetic", "dy": -1.5, "dx": -2, "fontSize": 17},
      "encoding": {"x": {"field": "g", "type": "nominal"}, "xOffset": {"field": "fr", "type": "nominal"}, "y": {"field": "to", "type": "nominal", "axis": null}, "text": {"field": "t"}}}
    ]}
   ],
   "resolve": {"scale": {"y": "independent"}}
  },
  {"vconcat": [
    {"width": 40, "height": 34, "data": {"values": [{}]}, "mark": {"type": "text"}, "encoding": {"text": {"value": " "}}},
    {"width": 40, "height": 172, "view": {"stroke": "#c8c8c8", "strokeWidth": 1.5}, "data": {"values": [{"t": "Prednisolone"}]}, "mark": {"type": "text", "angle": 90, "fontSize": 24, "align": "center", "baseline": "middle"}, "encoding": {"text": {"field": "t"}}}
   ], "spacing": 0, "bounds": "flush"}
 ], "spacing": 9, "bounds": "flush"},
 {"hconcat": [
  {"width": 537, "height": 231,
   "layer": [
    {"layer": [
     {"data": {"name": "box"}, "transform": [{"filter": "datum.p=='c'"}],
      "mark": {"type": "rule", "strokeWidth": 2},
      "encoding": {
       "x": {"field": "g", "type": "nominal", "scale": {"domain": ["+++","++-","+-+","-++","+--","-+-","--+"], "paddingInner": 0, "paddingOuter": 0}, "axis": {"labels": false, "bandPosition": 0.5, "tickSize": 6, "title": "c)", "titleX": -93, "titleY": -183, "titleAngle": 0, "titleAlign": "left", "titleBaseline": "middle", "titleFontSize": 24, "titleFontWeight": "normal"}},
       "xOffset": {"field": "w", "type": "nominal", "scale": {"domain": ["week 0","week 2","week 6","week 24"], "paddingInner": 0.35, "paddingOuter": 0.525}},
       "y": {"field": "lo", "type": "quantitative", "scale": {"domain": [0,5,5.001,15], "range": [231,106,95,74], "nice": false, "zero": false}, "axis": {"values": [0,1,2,3,4,5,5.3,10,15], "tickCount": 30, "format": "d", "labelExpr": "datum.value == 5.3 ? '' : datum.label", "labelOverlap": false, "domain": false, "title": null, "offset": -5}},
       "y2": {"field": "hi"},
       "color": {"field": "w", "type": "nominal", "scale": {"domain": ["week 24","week 6","week 2","week 0"], "range": ["#7b144a","#1e2fd6","#f07676","#5cc6ec"]}, "legend": null}
      }},
     {"data": {"name": "box"}, "transform": [{"filter": "datum.p=='c' && datum.w=='week 0' && datum.g!='+++'"}],
      "mark": {"type": "rule", "strokeDash": [2,2], "strokeWidth": 1.3, "color": "#222"},
      "encoding": {"x": {"field": "g", "type": "nominal", "bandPosition": 0.045}, "y": {"datum": 0, "type": "quantitative"}, "y2": {"datum": 13}}},
     {"data": {"values": [{}]}, "mark": {"type": "rule", "strokeWidth": 2.5, "color": "black"},
      "encoding": {"x": {"datum": "+++", "type": "nominal", "bandPosition": 0.065}, "y": {"datum": 0, "type": "quantitative"}, "y2": {"datum": 5}}},
     {"data": {"values": [{}]}, "mark": {"type": "rule", "strokeWidth": 2.5, "color": "black"},
      "encoding": {"x": {"datum": "+++", "type": "nominal", "bandPosition": 0.065}, "y": {"datum": 5.3, "type": "quantitative"}, "y2": {"datum": 15}}},
     {"data": {"name": "box"}, "transform": [{"filter": "datum.p=='c'"}],
      "mark": {"type": "bar", "fill": "white", "strokeWidth": 2},
      "encoding": {
       "x": {"field": "g", "type": "nominal"},
       "xOffset": {"field": "w", "type": "nominal"},
       "y": {"field": "q1", "type": "quantitative"},
       "y2": {"field": "q3"},
       "stroke": {"field": "w", "type": "nominal", "scale": {"domain": ["week 0","week 2","week 6","week 24"], "range": ["#5cc6ec","#f07676","#1e2fd6","#7b144a"]}, "legend": {"title": null, "orient": "none", "legendX": 492, "legendY": 11, "symbolType": "M-1,-0.55H1V0.55H-1Z", "symbolSize": 400, "symbolStrokeWidth": 2.5, "symbolFillColor": "white", "labelFontSize": 17, "labelFont": "Liberation Sans", "labelColor": "black", "rowPadding": 0, "labelOffset": 8}}
      }},
     {"data": {"name": "box"}, "transform": [{"filter": "datum.p=='c'"}],
      "mark": {"type": "tick", "size": 10.5, "thickness": 2, "orient": "horizontal"},
      "encoding": {"x": {"field": "g", "type": "nominal"}, "xOffset": {"field": "w", "type": "nominal"}, "y": {"field": "md", "type": "quantitative"}, "color": {"field": "w", "type": "nominal", "legend": null}}},
     {"data": {"name": "box"}, "transform": [{"filter": "datum.p=='c'"}],
      "mark": {"type": "point", "filled": true, "size": 22, "opacity": 1},
      "encoding": {"x": {"field": "g", "type": "nominal"}, "xOffset": {"field": "w", "type": "nominal"}, "y": {"field": "hi", "type": "quantitative"}, "color": {"field": "w", "type": "nominal", "legend": null}}},
     {"data": {"name": "pts"}, "transform": [{"filter": "datum.p=='c' && datum.k=='f'"}],
      "mark": {"type": "point", "filled": true, "size": 22, "opacity": 1},
      "encoding": {"x": {"field": "g", "type": "nominal"}, "xOffset": {"field": "w", "type": "nominal"}, "y": {"field": "v", "type": "quantitative"}, "color": {"field": "w", "type": "nominal", "legend": null}}},
     {"data": {"name": "pts"}, "transform": [{"filter": "datum.p=='c' && datum.k=='o'"}],
      "mark": {"type": "point", "filled": false, "size": 20, "strokeWidth": 1.1, "color": "#111", "opacity": 1},
      "encoding": {"x": {"field": "g", "type": "nominal"}, "xOffset": {"field": "w", "type": "nominal"}, "y": {"field": "v", "type": "quantitative"}}}
    ]},
    {"layer": [
     {"data": {"name": "pv"}, "transform": [{"filter": "datum.p=='c'"}, {"fold": ["fr","to"], "as": ["kk","wk"]}],
      "mark": {"type": "line", "strokeWidth": 1.5, "color": "#333"},
      "encoding": {"x": {"field": "g", "type": "nominal"}, "xOffset": {"field": "wk", "type": "nominal"}, "y": {"field": "to", "type": "nominal", "scale": {"type": "point", "domain": ["week 24","week 6","week 2"], "range": [45,96], "padding": 0}, "axis": null}, "detail": [{"field": "g"}, {"field": "to"}]}},
     {"data": {"name": "pv"}, "transform": [{"filter": "datum.p=='c'"}],
      "mark": {"type": "text", "align": "left", "baseline": "alphabetic", "dy": -1.5, "dx": -2, "fontSize": 17},
      "encoding": {"x": {"field": "g", "type": "nominal"}, "xOffset": {"field": "fr", "type": "nominal"}, "y": {"field": "to", "type": "nominal", "axis": null}, "text": {"field": "t"}}}
    ]}
   ],
   "resolve": {"scale": {"y": "independent"}}
  },
  {"vconcat": [
    {"width": 40, "height": 94, "data": {"values": [{}]}, "mark": {"type": "text"}, "encoding": {"text": {"value": " "}}},
    {"width": 40, "height": 68, "view": {"stroke": "#c8c8c8", "strokeWidth": 1.5}, "data": {"values": [{"t": "MIP"}]}, "mark": {"type": "text", "angle": 90, "fontSize": 24, "align": "center", "baseline": "middle"}, "encoding": {"text": {"field": "t"}}}
   ], "spacing": 0, "bounds": "flush"}
 ], "spacing": 9, "bounds": "flush"},
 {"hconcat": [
  {"width": 537, "height": 239,
   "layer": [
    {"layer": [
     {"data": {"name": "box"}, "transform": [{"filter": "datum.p=='d'"}],
      "mark": {"type": "rule", "strokeWidth": 2},
      "encoding": {
       "x": {"field": "g", "type": "nominal", "scale": {"domain": ["+++","++-","+-+","-++","+--","-+-","--+"], "paddingInner": 0, "paddingOuter": 0}, "axis": {"labels": false, "bandPosition": 0.5, "tickSize": 6, "title": "d)", "titleX": -93, "titleY": -198, "titleAngle": 0, "titleAlign": "left", "titleBaseline": "middle", "titleFontSize": 24, "titleFontWeight": "normal"}},
       "xOffset": {"field": "w", "type": "nominal", "scale": {"domain": ["week 0","week 2","week 6","week 24"], "paddingInner": 0.35, "paddingOuter": 0.525}},
       "y": {"field": "lo", "type": "quantitative", "scale": {"domain": [0,5,5.001,15], "range": [239,114,103,82], "nice": false, "zero": false}, "axis": {"values": [0,1,2,3,4,5,5.3,10,15], "tickCount": 30, "format": "d", "labelExpr": "datum.value == 5.3 ? '' : datum.label", "labelOverlap": false, "domain": false, "title": null, "offset": -5}},
       "y2": {"field": "hi"},
       "color": {"field": "w", "type": "nominal", "scale": {"domain": ["week 24","week 6","week 2","week 0"], "range": ["#7b144a","#1e2fd6","#f07676","#5cc6ec"]}, "legend": null}
      }},
     {"data": {"name": "box"}, "transform": [{"filter": "datum.p=='d' && datum.w=='week 0' && datum.g!='+++'"}],
      "mark": {"type": "rule", "strokeDash": [2,2], "strokeWidth": 1.3, "color": "#222"},
      "encoding": {"x": {"field": "g", "type": "nominal", "bandPosition": 0.045}, "y": {"datum": 0, "type": "quantitative"}, "y2": {"datum": 13}}},
     {"data": {"values": [{}]}, "mark": {"type": "rule", "strokeWidth": 2.5, "color": "black"},
      "encoding": {"x": {"datum": "+++", "type": "nominal", "bandPosition": 0.065}, "y": {"datum": 0, "type": "quantitative"}, "y2": {"datum": 5}}},
     {"data": {"values": [{}]}, "mark": {"type": "rule", "strokeWidth": 2.5, "color": "black"},
      "encoding": {"x": {"datum": "+++", "type": "nominal", "bandPosition": 0.065}, "y": {"datum": 5.3, "type": "quantitative"}, "y2": {"datum": 15}}},
     {"data": {"name": "box"}, "transform": [{"filter": "datum.p=='d'"}],
      "mark": {"type": "bar", "fill": "white", "strokeWidth": 2},
      "encoding": {
       "x": {"field": "g", "type": "nominal"},
       "xOffset": {"field": "w", "type": "nominal"},
       "y": {"field": "q1", "type": "quantitative"},
       "y2": {"field": "q3"},
       "stroke": {"field": "w", "type": "nominal", "scale": {"domain": ["week 0","week 2","week 6","week 24"], "range": ["#5cc6ec","#f07676","#1e2fd6","#7b144a"]}, "legend": {"title": null, "orient": "none", "legendX": 492, "legendY": 11, "symbolType": "M-1,-0.55H1V0.55H-1Z", "symbolSize": 400, "symbolStrokeWidth": 2.5, "symbolFillColor": "white", "labelFontSize": 17, "labelFont": "Liberation Sans", "labelColor": "black", "rowPadding": 0, "labelOffset": 8}}
      }},
     {"data": {"name": "box"}, "transform": [{"filter": "datum.p=='d'"}],
      "mark": {"type": "tick", "size": 10.5, "thickness": 2, "orient": "horizontal"},
      "encoding": {"x": {"field": "g", "type": "nominal"}, "xOffset": {"field": "w", "type": "nominal"}, "y": {"field": "md", "type": "quantitative"}, "color": {"field": "w", "type": "nominal", "legend": null}}},
     {"data": {"name": "box"}, "transform": [{"filter": "datum.p=='d'"}],
      "mark": {"type": "point", "filled": true, "size": 22, "opacity": 1},
      "encoding": {"x": {"field": "g", "type": "nominal"}, "xOffset": {"field": "w", "type": "nominal"}, "y": {"field": "hi", "type": "quantitative"}, "color": {"field": "w", "type": "nominal", "legend": null}}},
     {"data": {"name": "pts"}, "transform": [{"filter": "datum.p=='d' && datum.k=='f'"}],
      "mark": {"type": "point", "filled": true, "size": 22, "opacity": 1},
      "encoding": {"x": {"field": "g", "type": "nominal"}, "xOffset": {"field": "w", "type": "nominal"}, "y": {"field": "v", "type": "quantitative"}, "color": {"field": "w", "type": "nominal", "legend": null}}},
     {"data": {"name": "pts"}, "transform": [{"filter": "datum.p=='d' && datum.k=='o'"}],
      "mark": {"type": "point", "filled": false, "size": 20, "strokeWidth": 1.1, "color": "#111", "opacity": 1},
      "encoding": {"x": {"field": "g", "type": "nominal"}, "xOffset": {"field": "w", "type": "nominal"}, "y": {"field": "v", "type": "quantitative"}}}
    ]},
    {"layer": [
     {"data": {"name": "pv"}, "transform": [{"filter": "datum.p=='d'"}, {"fold": ["fr","to"], "as": ["kk","wk"]}],
      "mark": {"type": "line", "strokeWidth": 1.5, "color": "#333"},
      "encoding": {"x": {"field": "g", "type": "nominal"}, "xOffset": {"field": "wk", "type": "nominal"}, "y": {"field": "to", "type": "nominal", "scale": {"type": "point", "domain": ["week 24","week 6","week 2"], "range": [50,103], "padding": 0}, "axis": null}, "detail": [{"field": "g"}, {"field": "to"}]}},
     {"data": {"name": "pv"}, "transform": [{"filter": "datum.p=='d' && !datum.b"}],
      "mark": {"type": "text", "align": "left", "baseline": "alphabetic", "dy": -1.5, "dx": -2, "fontSize": 17},
      "encoding": {"x": {"field": "g", "type": "nominal"}, "xOffset": {"field": "fr", "type": "nominal"}, "y": {"field": "to", "type": "nominal", "axis": null}, "text": {"field": "t"}}},
     {"data": {"name": "pv"}, "transform": [{"filter": "datum.p=='d' && datum.b"}],
      "mark": {"type": "text", "align": "left", "baseline": "alphabetic", "dy": -1.5, "dx": -2, "fontSize": 17, "fontWeight": "bold"},
      "encoding": {"x": {"field": "g", "type": "nominal"}, "xOffset": {"field": "fr", "type": "nominal"}, "y": {"field": "to", "type": "nominal", "axis": null}, "text": {"field": "t"}}}
    ]}
   ],
   "resolve": {"scale": {"y": "independent"}}
  },
  {"vconcat": [
    {"width": 40, "height": 16, "data": {"values": [{}]}, "mark": {"type": "text"}, "encoding": {"text": {"value": " "}}},
    {"width": 40, "height": 228, "view": {"stroke": "#c8c8c8", "strokeWidth": 1.5}, "data": {"values": [{"t": "MIP + prednisolone"}]}, "mark": {"type": "text", "angle": 90, "fontSize": 24, "align": "center", "baseline": "middle"}, "encoding": {"text": {"field": "t"}}}
   ], "spacing": 0, "bounds": "flush"}
 ], "spacing": 9, "bounds": "flush"},
 {"width": 537, "height": 100,
  "data": {"name": "tab"},
  "mark": {"type": "text", "fontSize": 19},
  "encoding": {
   "x": {"field": "g", "type": "nominal", "scale": {"domain": ["+++","++-","+-+","-++","+--","-+-","--+"], "paddingInner": 0, "paddingOuter": 0}, "axis": null},
   "y": {"field": "c", "type": "nominal", "scale": {"type": "point", "domain": ["IFN-γ","IL-2","TNF"], "range": [13,79], "padding": 0}, "axis": {"domain": false, "ticks": false, "tickSize": 0, "labelAlign": "left", "labelPadding": 75, "labelFontSize": 19, "labelBaseline": "middle", "title": null}},
   "text": {"field": "s"}
  }}
]
}
